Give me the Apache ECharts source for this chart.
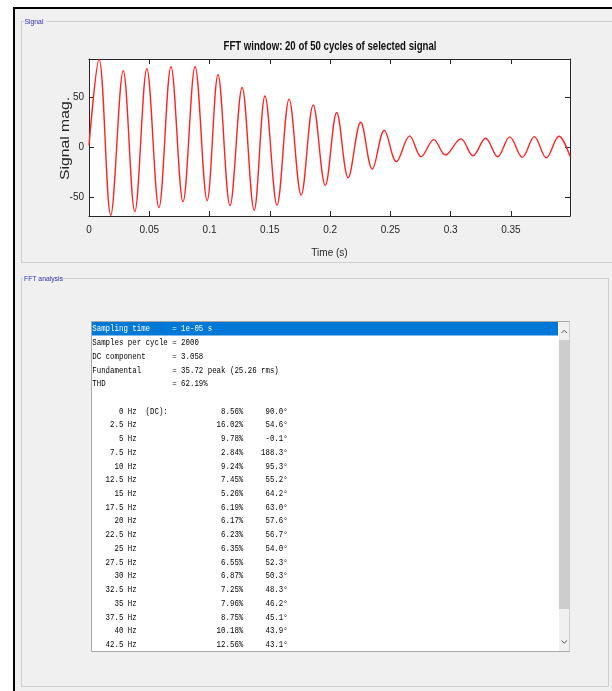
<!DOCTYPE html>
<html>
<head>
<meta charset="utf-8">
<script src="https://cdn.jsdelivr.net/npm/echarts@6/dist/echarts.min.js"></script>
<style>
html,body{margin:0;padding:0;background:#fff;}
#c{width:612px;height:691px;}
</style>
</head>
<body>
<div id="c"></div>
<script>
// ---- signal: times (s) and values of the curve's turning points ----
const sigT = [0, 0.0083, 0.018, 0.0284, 0.038, 0.048, 0.058, 0.068, 0.078, 0.088, 0.098,
  0.107, 0.117, 0.127, 0.137, 0.146, 0.156, 0.166, 0.176, 0.186, 0.196,
  0.2055, 0.215, 0.2254, 0.235, 0.245, 0.255, 0.266, 0.2755, 0.286, 0.2956,
  0.3085, 0.3185, 0.329, 0.339, 0.349, 0.3595, 0.3694, 0.3793, 0.3898, 0.399];
const sigV = [2, 87.3, -67.5, 76, -64, 78, -60, 80, -54, 80, -53,
  72, -58, 59.4, -62.5, 51, -57.5, 47.8, -47.5, 42, -38,
  34.5, -30.3, 24.9, -21.6, 16.9, -14.3, 11.3, -9.3, 7.6, -7.7,
  8.3, -8.4, 9, -9.4, 10.3, -10, 10.6, -10.4, 11, -9];
const xTicks = [0, 0.05, 0.1, 0.15, 0.2, 0.25, 0.3, 0.35];
const yTicks = [-50, 0, 50];

// ---- FFT analysis listing ----
const summaryLabels = ['Sampling time', 'Samples per cycle', 'DC component', 'Fundamental', 'THD'];
const summaryValues = ['1e-05 s', '2000', '3.058', '35.72 peak (25.26 rms)', '62.19%'];
const freqHz = [0, 2.5, 5, 7.5, 10, 12.5, 15, 17.5, 20, 22.5, 25, 27.5, 30, 32.5, 35, 37.5, 40, 42.5];
const magPct = [8.56, 16.02, 9.78, 2.84, 9.24, 7.45, 5.26, 6.19, 6.17, 6.23, 6.35, 6.55, 6.87, 7.25, 7.96, 8.75, 10.18, 12.56];
const phaseDeg = [90.0, 54.6, -0.1, 188.3, 95.3, 55.2, 64.2, 63.0, 57.6, 56.7, 54.0, 52.3, 50.3, 48.3, 46.2, 45.1, 43.9, 43.1];

const titleText = 'FFT window: 20 of 50 cycles of selected signal';
const yName = 'Signal mag.';
const SANS = '"Liberation Sans", Arial, Helvetica, sans-serif';
const AX = '#262626';

// build listing rows (monospace)
const rows = summaryLabels.map((l, i) => l.padEnd(18) + '= ' + summaryValues[i]);
rows.push('');
freqHz.forEach((f, i) => {
  let s = String(f).padStart(7) + ' Hz';
  if (i === 0) s += '  (DC):';
  const p = magPct[i].toFixed(2) + '%';
  s = s.padEnd(34 - p.length) + p;
  const a = phaseDeg[i].toFixed(1) + '\u00b0';
  s += a.padStart(10);
  rows.push(s);
});

function textWidth(str, font) {
  const c = document.createElement('canvas').getContext('2d');
  c.font = font;
  return c.measureText(str).width;
}

const g = [];
function line(x1, y1, x2, y2, c, w) {
  g.push({type: 'line', silent: true, z: 1, shape: {x1, y1, x2, y2}, style: {stroke: c, lineWidth: w || 1}});
}
function rect(x, y, w, h, fill, stroke, z) {
  g.push({type: 'rect', silent: true, z: z || 1, shape: {x, y, width: w, height: h},
    style: {fill: fill || 'none', stroke: stroke || 'none', lineWidth: 1}});
}
// page frame
rect(0, 0, 612, 7, '#ffffff');
rect(0, 0, 13, 691, '#ffffff');
rect(13, 7, 599, 2, '#000000', null, 2);
rect(13, 7, 2, 684, '#000000', null, 2);
// Signal group box
const GB = '#cfcfcf';
line(21, 21.5, 24, 21.5, GB); line(46, 21.5, 612, 21.5, GB);
line(21.5, 21, 21.5, 262, GB); line(21, 262.5, 612, 262.5, GB);
g.push({type: 'text', silent: true, z: 3, x: 24.5, y: 21.5,
  style: {text: 'Signal', font: '8px ' + SANS, fill: '#2f2fb4', verticalAlign: 'middle'}, scaleX: 0.85});
// FFT analysis group box
line(21, 278.5, 23, 278.5, GB); line(60, 278.5, 608, 278.5, GB);
line(21.5, 278, 21.5, 686, GB); line(608.5, 278, 608.5, 686, GB);
line(21, 686.5, 609, 686.5, GB);
g.push({type: 'text', silent: true, z: 3, x: 24, y: 278.5,
  style: {text: 'FFT analysis', font: '8px ' + SANS, fill: '#2f2fb4', verticalAlign: 'middle'}, scaleX: 0.85});
// chart title (narrow bold, as in the picture)
const titleFont = 'bold 12px ' + SANS;
g.push({type: 'text', silent: true, z: 3, x: 330, y: 47,
  scaleX: 213 / textWidth(titleText, titleFont),
  style: {text: titleText, font: titleFont, fill: '#111', align: 'center', verticalAlign: 'middle'}});
// y-axis title (rotated)
const yNameFont = '12px ' + SANS;
g.push({type: 'text', silent: true, z: 3, x: 65.5, y: 138.5, rotation: Math.PI / 2,
  scaleX: 83 / textWidth(yName, yNameFont),
  style: {text: yName, font: yNameFont, fill: AX, align: 'center', verticalAlign: 'middle'}});
// listbox
rect(91.5, 321.5, 478, 330, '#ffffff', '#a9a9a9', 1);
rect(92, 322, 466, 13.5, '#0078d7', null, 2);
rect(559, 322, 10.5, 329, '#f0f0f0', null, 2);
rect(559, 340, 10.5, 269, '#cdcdcd', null, 3);
g.push({type: 'polyline', silent: true, z: 4, shape: {points: [[561.5, 333], [564.2, 330.3], [567, 333]]},
  style: {stroke: '#555', lineWidth: 1, fill: 'none'}});
g.push({type: 'polyline', silent: true, z: 4, shape: {points: [[561.5, 640.5], [564.2, 643.2], [567, 640.5]]},
  style: {stroke: '#555', lineWidth: 1, fill: 'none'}});
const monoFont = '9px "Liberation Mono", "DejaVu Sans Mono", monospace';
const monoScale = 4.44 / textWidth('0', monoFont);
rows.forEach((r, i) => {
  g.push({type: 'text', silent: true, z: 5, x: 92.3, y: 329 + i * 13.72, scaleX: monoScale,
    style: {text: r, font: monoFont, fill: i === 0 ? '#ffffff' : '#000000', verticalAlign: 'middle'}});
});

const chart = echarts.init(document.getElementById('c'), null, {renderer: 'canvas'});
const xCommon = {
  type: 'value', min: 0, max: 0.399,
  axisLine: {show: true, onZero: false, lineStyle: {color: AX, width: 1}},
  axisTick: {show: true, inside: true, length: 5, customValues: xTicks, lineStyle: {color: AX}},
  splitLine: {show: false}
};
const yCommon = {
  type: 'value', min: -68.3, max: 87.7,
  axisLine: {show: true, onZero: false, lineStyle: {color: AX, width: 1}},
  axisTick: {show: true, inside: true, length: 5, customValues: yTicks, lineStyle: {color: AX}},
  splitLine: {show: false}
};
chart.setOption({
  animation: false,
  backgroundColor: '#f0f0f0',
  grid: {left: 89, top: 59, width: 481, height: 157, show: true, backgroundColor: '#ffffff', borderWidth: 0, containLabel: false},
  xAxis: [
    Object.assign({}, xCommon, {
      position: 'bottom',
      name: 'Time (s)', nameLocation: 'middle', nameGap: 32, nameMoveOverlap: false,
      nameTextStyle: {fontFamily: SANS, fontSize: 10, color: AX},
      axisLabel: {show: true, customValues: xTicks, margin: 9, fontFamily: SANS, fontSize: 10, color: AX,
        formatter: v => String(v)}
    }),
    Object.assign({}, xCommon, {position: 'top', axisLabel: {show: false}})
  ],
  yAxis: [
    Object.assign({}, yCommon, {
      position: 'left',
      axisLabel: {show: true, customValues: yTicks, margin: 5, fontFamily: SANS, fontSize: 10, color: AX}
    }),
    Object.assign({}, yCommon, {position: 'right', axisLabel: {show: false}})
  ],
  series: [{
    type: 'line',
    data: sigT.map((t, i) => [t, sigV[i]]),
    smooth: 0.36,
    showSymbol: false,
    clip: true,
    lineStyle: {color: '#ff2222', width: 1.4}
  }],
  graphic: {elements: g}
});
</script>
</body>
</html>
